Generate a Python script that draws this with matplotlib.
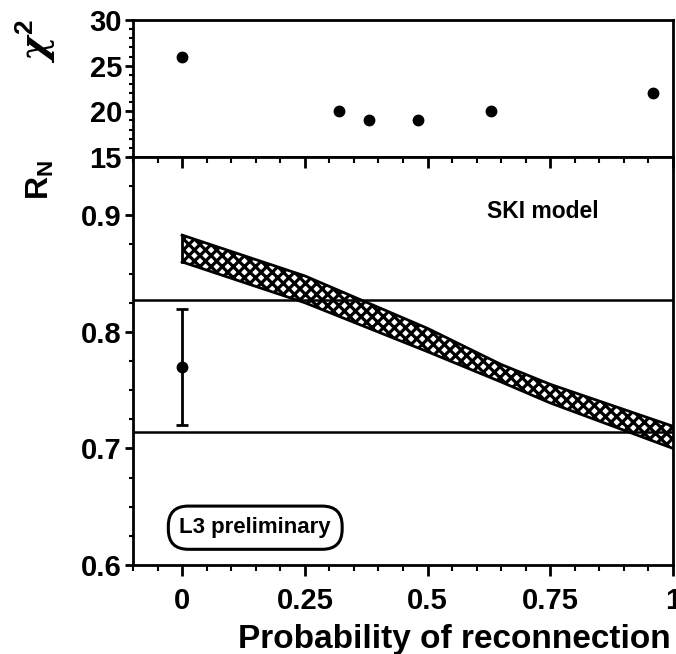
import matplotlib
matplotlib.use("Agg")
import matplotlib.pyplot as plt
from matplotlib.ticker import MultipleLocator, FixedLocator
import numpy as np

plt.rcParams['font.family'] = ['Liberation Sans', 'DejaVu Sans']
plt.rcParams['font.weight'] = 'bold'
plt.rcParams['hatch.linewidth'] = 2.3
plt.rcParams['mathtext.fontset'] = 'custom'
plt.rcParams['mathtext.rm'] = 'Liberation Sans:bold'
plt.rcParams['mathtext.it'] = 'DejaVu Serif:italic:bold'

# ---- data ----
chi2_x = [0.0, 0.32, 0.38, 0.48, 0.63, 0.96]
chi2_y = [26, 20, 19, 19, 20, 22]

band_x = [0.0, 0.25, 0.5, 0.65, 0.75, 1.0]
band_upper = [0.883, 0.848, 0.803, 0.772, 0.755, 0.719]
band_lower = [0.860, 0.825, 0.783, 0.757, 0.739, 0.700]

meas_x = [0.0]
meas_y = [0.77]
meas_err = [0.05]
meas_band = [0.714, 0.827]

x_ticks = [0, 0.25, 0.5, 0.75, 1.0]
x_ticklabels = ['0', '0.25', '0.5', '0.75', '1']
chi_ticks = [15, 20, 25, 30]
rn_ticks = [0.6, 0.7, 0.8, 0.9]
rn_ticklabels = ['0.6', '0.7', '0.8', '0.9']

W, H = 676, 654
fig = plt.figure(figsize=(W / 100, H / 100), dpi=100)

L, R = 133, 673
ax1 = fig.add_axes([L / W, 1 - 157 / H, (R - L) / W, (157 - 20) / H])
ax2 = fig.add_axes([L / W, 1 - 565 / H, (R - L) / W, (565 - 157) / H])

for ax in (ax1, ax2):
    for s in ax.spines.values():
        s.set_linewidth(2.0)
    ax.set_xlim(-0.1, 1.0)

TICKFS = 21

# top panel
ax1.plot(chi2_x, chi2_y, 'o', color='black', markersize=7.5, clip_on=False)
ax1.set_ylim(15, 30)
ax1.yaxis.set_major_locator(FixedLocator(chi_ticks))
ax1.yaxis.set_minor_locator(MultipleLocator(1))
ax1.set_xticks([])
ax1.tick_params(axis='y', which='major', direction='out', length=6, width=2,
                labelsize=TICKFS, pad=2)
ax1.tick_params(axis='y', which='minor', direction='out', length=3, width=1.5)
ax1.tick_params(axis='x', which='both', bottom=False, top=False, labelbottom=False)
ax1.text((36 - L) / (R - L), 0.85, r'$\chi^{\mathrm{2}}$', transform=ax1.transAxes,
         rotation=90, ha='center', va='center', fontsize=27)

# bottom panel
ax2.set_ylim(0.6, 0.95)
ax2.fill_between(band_x, band_lower, band_upper, facecolor='white',
                 edgecolor='black', hatch='xxx', linewidth=0)
ax2.plot(band_x, band_upper, color='black', lw=2)
ax2.plot(band_x, band_lower, color='black', lw=2)
ax2.plot([band_x[0], band_x[0]], [band_lower[0], band_upper[0]], color='black', lw=2)
for yv in meas_band:
    ax2.axhline(yv, color='black', lw=1.8)
ax2.errorbar(meas_x, meas_y, yerr=meas_err, fmt='o', color='black',
             markersize=7.5, elinewidth=2, capsize=4, capthick=2)

ax2.xaxis.set_major_locator(FixedLocator(x_ticks))
ax2.set_xticklabels(x_ticklabels)
ax2.xaxis.set_minor_locator(MultipleLocator(0.05))
ax2.yaxis.set_major_locator(FixedLocator(rn_ticks))
ax2.set_yticklabels(rn_ticklabels)
ax2.yaxis.set_minor_locator(MultipleLocator(0.025))
ax2.tick_params(axis='x', which='major', direction='out', length=8, width=2,
                top=True, labelsize=TICKFS, pad=8)
ax2.tick_params(axis='x', which='minor', direction='out', length=4, width=1.5, top=True)
ax2.tick_params(axis='y', which='major', direction='out', length=6, width=2,
                labelsize=TICKFS, pad=2)
ax2.tick_params(axis='y', which='minor', direction='out', length=3, width=1.5)
# top ticks inward
for t in ax2.xaxis.get_major_ticks() + ax2.xaxis.get_minor_ticks():
    t.tick2line.set_marker(3)  # TICKDOWN
for t in ax2.xaxis.get_major_ticks():
    t.tick2line.set_markersize(8)
for t in ax2.xaxis.get_minor_ticks():
    t.tick2line.set_markersize(4)

ax2.text((40 - L) / (R - L), 0.943, r'R$_\mathrm{N}$', transform=ax2.transAxes, rotation=90,
         ha='center', va='center', fontsize=23)

ax2.text(0.735, 0.903, 'SKI model', fontsize=16.5, fontweight='bold',
         ha='center', va='center')
ax2.text(0.149, 0.632, 'L3 preliminary', fontsize=16, fontweight='bold',
         ha='center', va='center',
         bbox=dict(boxstyle='round,pad=0.5,rounding_size=0.9', fc='white',
                   ec='black', lw=2.2))

ax2.text((454 - L) / (R - L), (565 - 648) / 408, 'Probability of reconnection',
         transform=ax2.transAxes, ha='center', va='baseline', fontsize=24)

fig.savefig('out.png', dpi=100)
